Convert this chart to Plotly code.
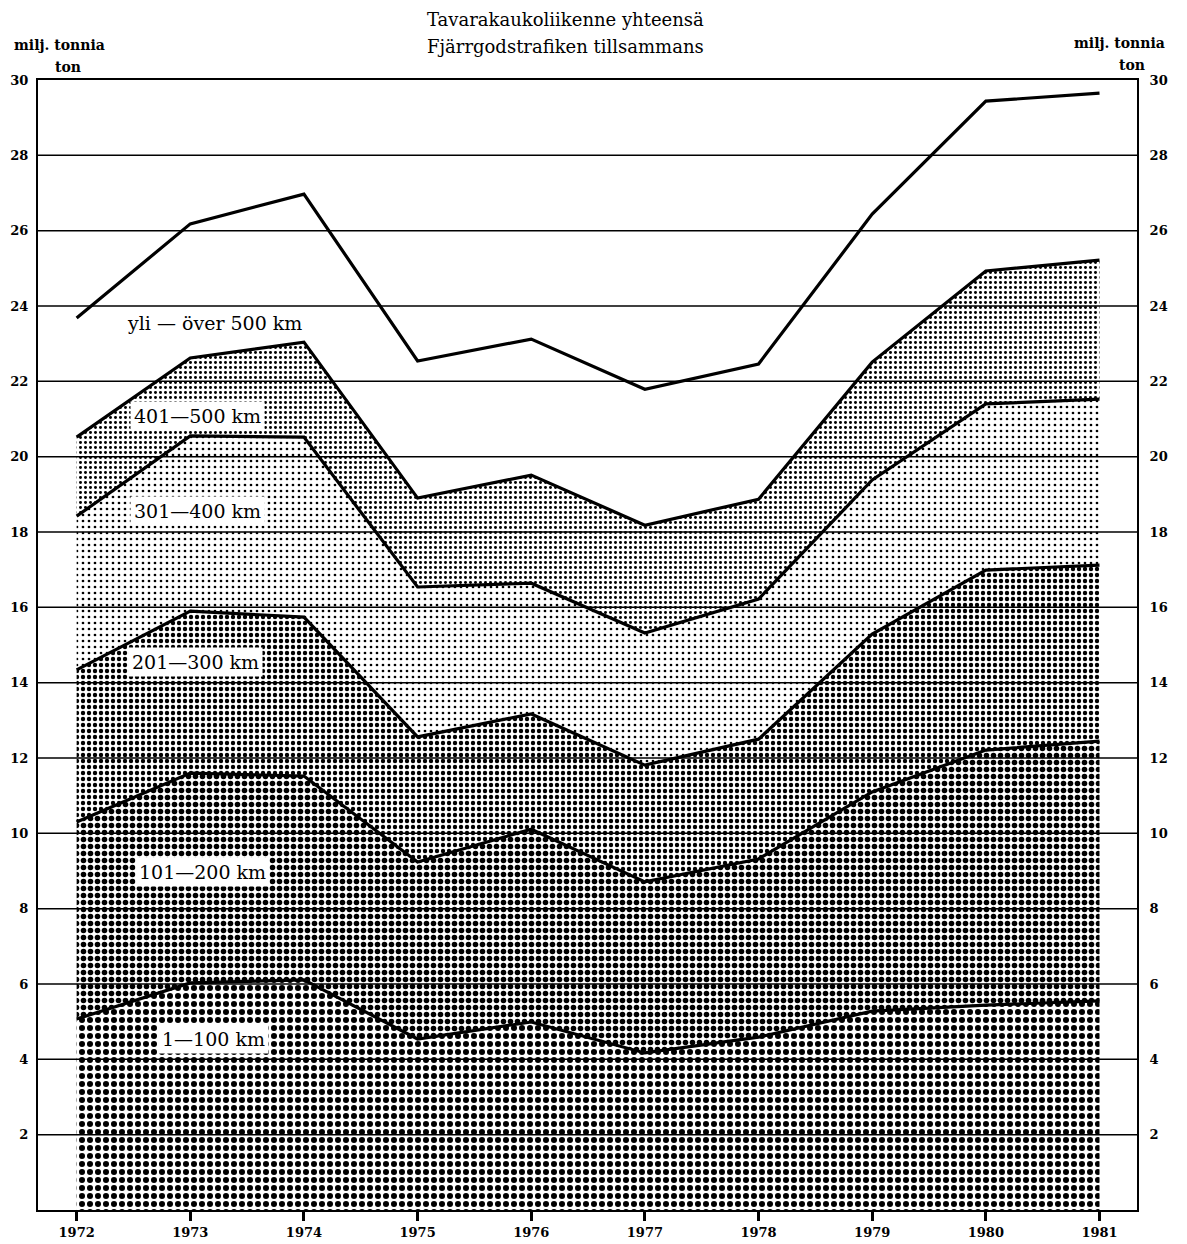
import plotly.graph_objects as go

years = [1972, 1973, 1974, 1975, 1976, 1977, 1978, 1979, 1980, 1981]

band_labels = ["1—100 km", "101—200 km", "201—300 km", "301—400 km", "401—500 km", "yli — över 500 km"]

km_1_100 = [5.07, 6.03, 6.11, 4.54, 4.99, 4.17, 4.59, 5.28, 5.44, 5.55]
km_101_200 = [5.23, 5.57, 5.41, 4.70, 5.12, 4.54, 4.73, 5.82, 6.77, 6.90]
km_201_300 = [4.04, 4.30, 4.22, 3.32, 3.06, 3.10, 3.18, 4.19, 4.78, 4.67]
km_301_400 = [4.08, 4.65, 4.78, 3.98, 3.47, 3.51, 3.72, 4.09, 4.41, 4.41]
km_401_500 = [2.10, 2.07, 2.52, 2.36, 2.87, 2.86, 2.65, 3.13, 3.53, 3.69]
km_over_500 = [3.16, 3.56, 3.93, 3.64, 3.61, 3.61, 3.59, 3.93, 4.51, 4.43]

series = [km_1_100, km_101_200, km_201_300, km_301_400, km_401_500, km_over_500]

y_ticks = [2, 4, 6, 8, 10, 12, 14, 16, 18, 20, 22, 24, 26, 28, 30]

title_lines = ["Tavarakaukoliikenne yhteensä", "Fjärrgodstrafiken tillsammans"]
unit_lines = ["milj. tonnia", "ton"]

# pattern styles per band (size, solidity); None = plain white
patterns = [(8, 0.45), (7, 0.50), (6, 0.42), (6, 0.16), (5, 0.28), None]

SERIF = "DejaVu Serif"

fig = go.Figure()
for vals, name, pat in zip(series, band_labels, patterns):
    kw = {}
    if pat is not None:
        kw["fillpattern"] = dict(shape=".", size=pat[0], solidity=pat[1],
                                 fgcolor="black", bgcolor="white", fillmode="replace")
        kw["fillcolor"] = "white"
    else:
        kw["fillcolor"] = "rgba(255,255,255,0)"
    fig.add_trace(go.Scatter(
        x=years, y=vals, name=name, mode="lines", stackgroup="one",
        line=dict(color="black", width=3.2), hoverinfo="skip", showlegend=False, **kw))

# dummy trace for the right axis
fig.add_trace(go.Scatter(x=[years[0]], y=[0], yaxis="y2", mode="markers",
                         marker=dict(opacity=0), showlegend=False, hoverinfo="skip"))

# horizontal rules over the fills
for t in y_ticks:
    if t < 30:
        fig.add_shape(type="line", xref="paper", yref="y", x0=0, x1=1, y0=t, y1=t,
                      line=dict(color="black", width=1.5), layer="above")

tickfont = dict(family=SERIF, size=13, color="black", weight="bold")

fig.update_layout(
    width=1179, height=1236,
    margin=dict(l=30, r=50, t=72, b=34, autoexpand=False),
    paper_bgcolor="white", plot_bgcolor="white",
    xaxis=dict(range=[1971.66, 1981.33], tickvals=years, ticktext=[str(y) for y in years],
               showgrid=False, zeroline=False, showline=True, linecolor="black", linewidth=2,
               mirror=True, ticks="outside", ticklen=9, tickwidth=2.5, tickcolor="black",
               tickfont=tickfont, automargin=False),
    yaxis=dict(range=[0, 30], tickvals=y_ticks, showgrid=False, zeroline=False,
               showline=True, linecolor="black", linewidth=2, ticks="",
               tickfont=tickfont, ticklabelstandoff=5, automargin=False),
    yaxis2=dict(range=[0, 30], tickvals=y_ticks, overlaying="y", side="right",
                showgrid=False, zeroline=False, showline=True, linecolor="black",
                linewidth=2, ticks="", tickfont=tickfont, ticklabelstandoff=8,
                automargin=False),
)

# title
titlefont = dict(family=SERIF, size=18, color="black")
fig.add_annotation(text=title_lines[0], xref="paper", yref="paper", x=0.4804, y=1.0535,
                   showarrow=False, font=titlefont, xanchor="center", yanchor="middle")
fig.add_annotation(text=title_lines[1], xref="paper", yref="paper", x=0.4804, y=1.0300,
                   showarrow=False, font=titlefont, xanchor="center", yanchor="middle")

unitfont = dict(family=SERIF, size=14, color="black", weight="bold")
for (x1, y1, x2, y2) in [(0.020, 1.031, 0.0273, 1.0115), (0.9845, 1.0327, 0.9954, 1.0133)]:
    fig.add_annotation(text=unit_lines[0], xref="paper", yref="paper", x=x1, y=y1,
                       showarrow=False, font=unitfont, xanchor="center", yanchor="middle")
    fig.add_annotation(text=unit_lines[1], xref="paper", yref="paper", x=x2, y=y2,
                       showarrow=False, font=unitfont, xanchor="center", yanchor="middle")

# band labels
label_pos = [(1973.20, 4.54), (1973.11, 8.97), (1973.05, 14.55),
             (1973.06, 18.56), (1973.06, 21.08), (1973.21, 23.55)]
for name, (lx, ly) in zip(band_labels, label_pos):
    fig.add_annotation(text=name, x=lx, y=ly, xref="x", yref="y", showarrow=False,
                       font=dict(family=SERIF, size=19, color="black"),
                       bgcolor="white", borderpad=3, xanchor="center", yanchor="middle")

fig.write_html("out.html")
